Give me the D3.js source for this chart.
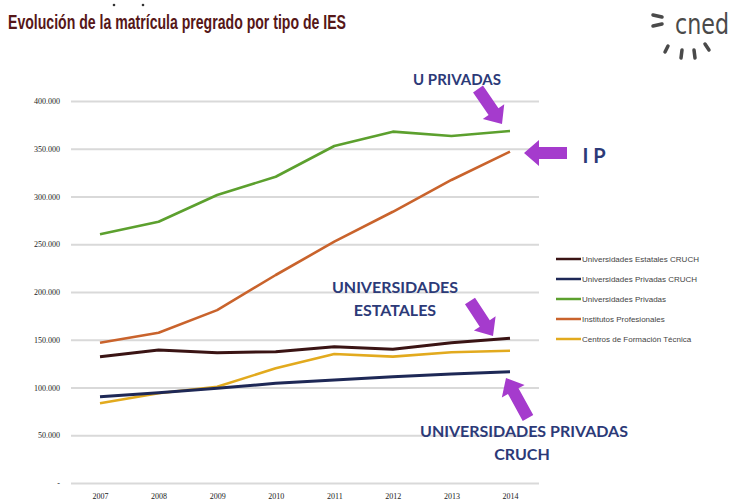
<!DOCTYPE html>
<html>
<head>
<meta charset="utf-8">
<script src="https://cdn.jsdelivr.net/npm/d3@7"></script>
<style>
  body { margin: 0; background: #fff; }
  svg { display: block; }
</style>
</head>
<body>
<div id="chart"></div>
<script>
// data
var years = ["2007", "2008", "2009", "2010", "2011", "2012", "2013", "2014"];
var seriesNames = ["Universidades Estatales CRUCH", "Universidades Privadas CRUCH", "Universidades Privadas",
                   "Institutos Profesionales", "Centros de Formación Técnica"];
var uEstatales = [132300, 139300, 136400, 137500, 142700, 140000, 146900, 151500];
var uPrivCruch = [90400, 94600, 99200, 104400, 107900, 111300, 114100, 116500];
var uPrivadas  = [260400, 273600, 301600, 320700, 352900, 367900, 363400, 368600];
var institutos = [146900, 157400, 181000, 217800, 252700, 284000, 317300, 347000];
var centrosFT  = [83500, 93900, 100800, 120100, 135100, 132300, 136900, 138500];
var yTicks = [0, 50000, 100000, 150000, 200000, 250000, 300000, 350000, 400000];
var yTickLabels = ["-", "50.000", "100.000", "150.000", "200.000", "250.000", "300.000", "350.000", "400.000"];
var colors = ["#3a1414", "#1e2856", "#5ca02e", "#c9632c", "#e2aa1e"];

var allSeries = [uEstatales, uPrivCruch, uPrivadas, institutos, centrosFT];

var W = 738, H = 501;
var svg = d3.select("#chart").append("svg")
    .attr("width", W).attr("height", H)
    .style("background-color", "#fff");

// two specks above the title
svg.append("circle").attr("cx", 114).attr("cy", 5).attr("r", 1.3).attr("fill", "#333");
svg.append("circle").attr("cx", 143).attr("cy", 5).attr("r", 1.3).attr("fill", "#333");

// title
svg.append("text")
    .attr("x", 8).attr("y", 29)
    .attr("font-family", "Liberation Sans Narrow, Arial Narrow, Liberation Sans, Arial")
    .attr("font-weight", "bold")
    .attr("font-size", "21px")
    .attr("fill", "#561718")
    .attr("textLength", 338)
    .attr("lengthAdjust", "spacingAndGlyphs")
    .text("Evolución de la matrícula pregrado por tipo de IES");

// cned logo
var logo = svg.append("g").attr("fill", "#4a4a4a").attr("stroke", "#4a4a4a");
logo.append("text")
    .attr("x", 675).attr("y", 34)
    .attr("stroke", "none")
    .attr("font-family", "DejaVu Sans Condensed, Liberation Sans Narrow, sans-serif")
    .attr("font-size", "29px")
    .attr("textLength", 54)
    .attr("lengthAdjust", "spacingAndGlyphs")
    .text("cned");
logo.append("line").attr("x1", 653).attr("y1", 15).attr("x2", 662).attr("y2", 17).attr("stroke-width", 3.5).attr("stroke-linecap", "round");
logo.append("line").attr("x1", 653).attr("y1", 26).attr("x2", 662).attr("y2", 24).attr("stroke-width", 3.5).attr("stroke-linecap", "round");
logo.append("line").attr("x1", 668).attr("y1", 46).attr("x2", 665).attr("y2", 52).attr("stroke-width", 3.5).attr("stroke-linecap", "round");
logo.append("line").attr("x1", 682).attr("y1", 50).attr("x2", 681).attr("y2", 58).attr("stroke-width", 3.5).attr("stroke-linecap", "round");
logo.append("line").attr("x1", 694).attr("y1", 50).attr("x2", 695).attr("y2", 58).attr("stroke-width", 3.5).attr("stroke-linecap", "round");
logo.append("line").attr("x1", 705).attr("y1", 44).attr("x2", 709).attr("y2", 50).attr("stroke-width", 3.5).attr("stroke-linecap", "round");

// scales
var x = d3.scalePoint().domain(years).range([100, 510]);
var y = d3.scaleLinear().domain([0, 400000]).range([483, 101]);

// y axis = gridlines
var yAxis = svg.append("g")
    .attr("transform", "translate(71,0)")
    .call(d3.axisLeft(y).tickValues(yTicks).tickSize(-(539 - 71)).tickPadding(11)
        .tickFormat(function(d, i) { return yTickLabels[i]; }));
yAxis.select(".domain").remove();
yAxis.selectAll(".tick line").attr("stroke", "#d9d9d9").attr("stroke-width", 2);
yAxis.selectAll(".tick text")
    .attr("font-family", "Liberation Serif, Times New Roman, serif")
    .attr("font-size", "8px")
    .attr("fill", "#222");

// x axis labels
var xAxis = svg.append("g")
    .attr("transform", "translate(0,487)")
    .call(d3.axisBottom(x).tickSize(0).tickPadding(6));
xAxis.select(".domain").remove();
xAxis.selectAll(".tick text")
    .attr("font-family", "Liberation Serif, Times New Roman, serif")
    .attr("font-size", "8px")
    .attr("fill", "#222");

// lines
var line = d3.line()
    .x(function(d, i) { return x(years[i]); })
    .y(function(d) { return y(d); });

// draw order so the dark lines sit on top, as in the picture
var order = [2, 3, 4, 1, 0];
order.forEach(function(k) {
  svg.append("path")
      .datum(allSeries[k])
      .attr("fill", "none")
      .attr("stroke", colors[k])
      .attr("stroke-width", k < 2 ? 3 : 2.6)
      .attr("stroke-linejoin", "round")
      .attr("d", line);
});

// legend
var legend = svg.append("g");
seriesNames.forEach(function(name, i) {
  var ly = 259 + i * 20;
  legend.append("line")
      .attr("x1", 556).attr("x2", 581).attr("y1", ly).attr("y2", ly)
      .attr("stroke", colors[i]).attr("stroke-width", 2.5);
  legend.append("text")
      .attr("x", 582).attr("y", ly + 2.5)
      .attr("font-family", "Liberation Sans, Arial, sans-serif")
      .attr("font-size", "8px")
      .attr("fill", "#444")
      .text(name);
});

// purple block arrows
function blockArrow(x1, y1, x2, y2) {
  var dx = x2 - x1, dy = y2 - y1;
  var len = Math.sqrt(dx * dx + dy * dy);
  var ux = dx / len, uy = dy / len, nx = -uy, ny = ux;
  var shaft = 6, head = 13, headLen = 15;
  var bx = x2 - ux * headLen, by = y2 - uy * headLen;
  var pts = [
    [x1 + nx * shaft, y1 + ny * shaft],
    [bx + nx * shaft, by + ny * shaft],
    [bx + nx * head, by + ny * head],
    [x2, y2],
    [bx - nx * head, by - ny * head],
    [bx - nx * shaft, by - ny * shaft],
    [x1 - nx * shaft, y1 - ny * shaft]
  ];
  svg.append("path")
      .attr("d", "M" + pts.map(function(p) { return p[0] + "," + p[1]; }).join("L") + "Z")
      .attr("fill", "#a53bcd");
}
blockArrow(478, 89, 502, 124);
blockArrow(567, 153, 524, 153);
blockArrow(470, 301, 493, 336);
blockArrow(528, 418, 506, 378);

// annotation labels
function note(tx, ty, txt, size, anchor) {
  svg.append("text")
      .attr("x", tx).attr("y", ty)
      .attr("text-anchor", anchor || "middle")
      .attr("font-family", "Lato, Open Sans, sans-serif")
      .attr("font-weight", "bold")
      .attr("font-size", size + "px")
      .attr("fill", "#2c3a78")
      .text(txt);
}
note(457, 85, "U PRIVADAS", 15);
note(594, 163, "I P", 20);
note(395, 293, "UNIVERSIDADES", 16);
note(395, 316, "ESTATALES", 16);
note(524, 437, "UNIVERSIDADES PRIVADAS", 16);
note(522, 460, "CRUCH", 16);
</script>
</body>
</html>
